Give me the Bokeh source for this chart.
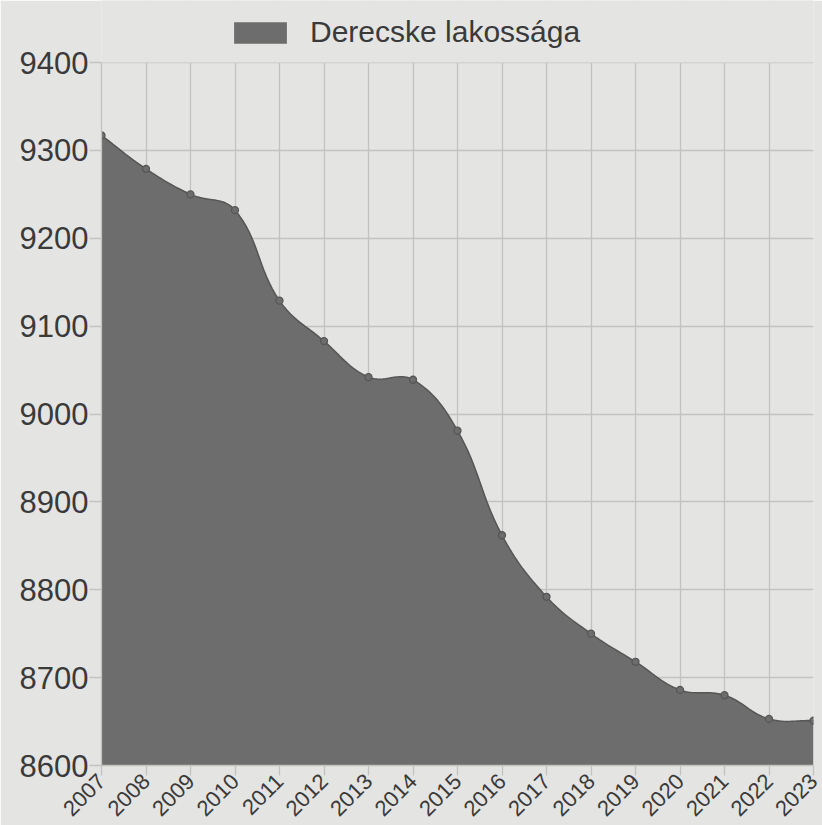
import math
from bokeh.plotting import figure
from bokeh.models import Range1d, FixedTicker, Legend, LegendItem, ColumnDataSource, BoxAnnotation
from bokeh.embed import file_html
from bokeh.resources import INLINE

# ---- data ----
years = [2007, 2008, 2009, 2010, 2011, 2012, 2013, 2014, 2015,
         2016, 2017, 2018, 2019, 2020, 2021, 2022, 2023]
population = [9317, 9279, 9250, 9232, 9129, 9083, 9042, 9039, 8981,
              8862, 8792, 8750, 8718, 8686, 8680, 8653, 8651]
y_ticks = [8600, 8700, 8800, 8900, 9000, 9100, 9200, 9300, 9400]
series_name = "Derecske lakossága"

BG = "#e4e4e2"
GRID = "#c2c2c0"
FILL = "#6d6d6d"
EDGE = "#565656"
TXT = "#3a3a3a"
FONT = "Liberation Sans"

W, H = 822, 825
BL, BR, BB = 101, 9, 60
STRIP = 62                      # legend strip above the 9400 line (px)
plot_h = H - BB - STRIP         # pixel height of the value range
y_lo, y_hi = y_ticks[0], y_ticks[-1]
y_top = y_hi + (y_hi - y_lo) * STRIP / plot_h

p = figure(width=W, height=H, output_backend="svg", toolbar_location=None,
           x_range=Range1d(years[0], years[-1]), y_range=Range1d(y_lo, y_top),
           min_border_left=BL, min_border_right=BR, min_border_top=0, min_border_bottom=BB)
p.background_fill_color = BG
p.border_fill_color = BG
p.outline_line_color = None


def smooth_curve(xs, ys, tension=0.4, steps=16):
    # Chart.js-like spline through the data points (rendering only)
    fw = float(W - BL - BR)
    sx = fw / (xs[-1] - xs[0])
    sy = plot_h / float(y_hi - y_lo)
    pts = [((x - xs[0]) * sx, (y - y_lo) * sy) for x, y in zip(xs, ys)]
    n = len(pts)
    prev_cp, next_cp = [], []
    for i in range(n):
        p0 = pts[max(i - 1, 0)]
        p1 = pts[i]
        p2 = pts[min(i + 1, n - 1)]
        d01 = math.hypot(p1[0] - p0[0], p1[1] - p0[1])
        d12 = math.hypot(p2[0] - p1[0], p2[1] - p1[1])
        tot = d01 + d12
        s01 = d01 / tot if tot else 0
        s12 = d12 / tot if tot else 0
        fa, fb = tension * s01, tension * s12
        prev_cp.append((p1[0] - fa * (p2[0] - p0[0]), p1[1] - fa * (p2[1] - p0[1])))
        next_cp.append((p1[0] + fb * (p2[0] - p0[0]), p1[1] + fb * (p2[1] - p0[1])))
    out_x, out_y = [], []
    for i in range(n - 1):
        P0, C1, C2, P3 = pts[i], next_cp[i], prev_cp[i + 1], pts[i + 1]
        for k in range(steps):
            t = k / steps
            u = 1 - t
            bx = u**3 * P0[0] + 3 * u * u * t * C1[0] + 3 * u * t * t * C2[0] + t**3 * P3[0]
            by = u**3 * P0[1] + 3 * u * u * t * C1[1] + 3 * u * t * t * C2[1] + t**3 * P3[1]
            out_x.append(xs[0] + bx / sx)
            out_y.append(y_lo + by / sy)
    out_x.append(xs[-1])
    out_y.append(ys[-1])
    return out_x, out_y


cx, cy = smooth_curve(years, population)
curve = ColumnDataSource(dict(x=cx, y=cy, y0=[y_lo] * len(cx)))

# mask the grid above the top value line (legend strip)
p.add_layout(BoxAnnotation(bottom=y_hi, fill_color=BG, fill_alpha=1.0,
                           line_color=None, level="underlay"))

area = p.varea(x="x", y1="y0", y2="y", source=curve, fill_color=FILL, fill_alpha=1.0)
p.line(x="x", y="y", source=curve, line_color=EDGE, line_width=1.5)
p.scatter(years, population, size=7, fill_color=FILL, line_color=EDGE, line_width=1.3)

# grid
p.xgrid.grid_line_color = GRID
p.ygrid.grid_line_color = GRID
p.xgrid.grid_line_width = 1.3
p.ygrid.grid_line_width = 1.3
p.xaxis.ticker = FixedTicker(ticks=years)
p.yaxis.ticker = FixedTicker(ticks=y_ticks)
p.xgrid.ticker = FixedTicker(ticks=years)
p.ygrid.ticker = FixedTicker(ticks=y_ticks)
p.yaxis.bounds = (y_lo, y_hi)

for ax in (p.xaxis, p.yaxis):
    ax.axis_line_color = GRID
    ax.axis_line_width = 1.3
    ax.major_tick_line_color = GRID
    ax.major_tick_line_width = 1.3
    ax.minor_tick_line_color = None
    ax.major_tick_in = 0
    ax.major_label_text_color = TXT
    ax.major_label_text_font = FONT

p.yaxis.major_tick_out = 12
p.yaxis.major_label_standoff = 1
p.yaxis.major_label_text_font_size = "31px"
p.xaxis.major_tick_out = 10
p.xaxis.major_label_standoff = 2
p.xaxis.major_label_text_font_size = "22px"
p.xaxis.major_label_orientation = math.pi / 4

legend = Legend(items=[LegendItem(label=series_name, renderers=[area])],
                location=(126, plot_h + 13), orientation="horizontal",
                glyph_width=66, glyph_height=27, label_standoff=17,
                label_height=30,
                label_text_font=FONT, label_text_font_size="30px",
                label_text_color=TXT, padding=0, margin=0, spacing=0,
                border_line_color=None, background_fill_alpha=0)
p.add_layout(legend, "center")

html = file_html(p, INLINE)
html = html.replace("<body>", '<body style="background-color:%s">' % BG, 1)
open("out.html", "w").write(html)
